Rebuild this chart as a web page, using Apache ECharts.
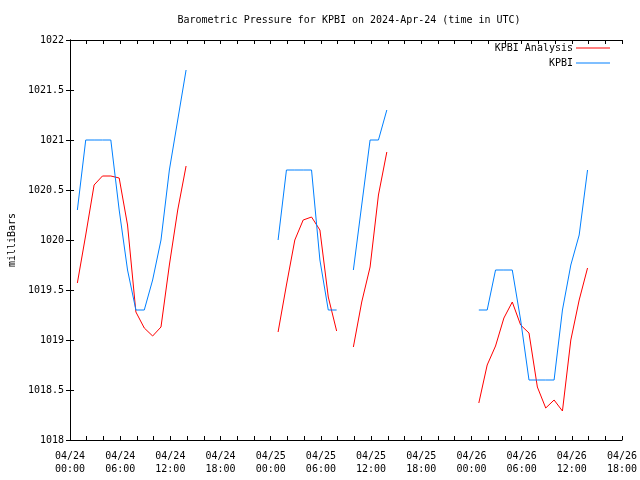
<!DOCTYPE html>
<html>
<head>
<meta charset="utf-8">
<script src="https://cdn.jsdelivr.net/npm/echarts@6/dist/echarts.min.js"></script>
<style>html,body{margin:0;padding:0;background:#fff}#c{width:640px;height:480px}</style>
</head>
<body>
<div id="c"></div>
<script>
// hours since 2024-04-24 00:00 UTC (observations at :53)
const hours24 = [0.88,1.88,2.88,3.88,4.88,5.88,6.88,7.88,8.88,9.88,10.88,11.88,12.88,13.88];
const kpbi24  = [1020.3,1021,1021,1021,1021,1020.3,1019.7,1019.3,1019.3,1019.6,1020.0,1020.7,1021.2,1021.7];
const anal24  = [1019.57,1020.05,1020.55,1020.64,1020.64,1020.62,1020.15,1019.28,1019.12,1019.04,1019.13,1019.75,1020.3,1020.74];

const hours25a = [24.88,25.88,26.88,27.88,28.88,29.88,30.88,31.88];
const kpbi25a  = [1020.0,1020.7,1020.7,1020.7,1020.7,1019.8,1019.3,1019.3];
const anal25a  = [1019.08,1019.55,1020.0,1020.2,1020.23,1020.1,1019.43,1019.09];

const hours25b = [33.88,34.88,35.88,36.88,37.88];
const kpbi25b  = [1019.7,1020.35,1021.0,1021.0,1021.3];
const anal25b  = [1018.93,1019.38,1019.73,1020.45,1020.88];

const hours26 = [48.88,49.88,50.88,51.88,52.88,53.88,54.88,55.88,56.88,57.88,58.88,59.88,60.88,61.88];
const kpbi26  = [1019.3,1019.3,1019.7,1019.7,1019.7,1019.2,1018.6,1018.6,1018.6,1018.6,1019.3,1019.75,1020.05,1020.7];
const anal26  = [1018.37,1018.75,1018.94,1019.22,1019.38,1019.15,1019.07,1018.53,1018.32,1018.4,1018.29,1019.0,1019.4,1019.72];

const xTickLabels = ['04/24\n00:00','04/24\n06:00','04/24\n12:00','04/24\n18:00',
                     '04/25\n00:00','04/25\n06:00','04/25\n12:00','04/25\n18:00',
                     '04/26\n00:00','04/26\n06:00','04/26\n12:00','04/26\n18:00'];

function build(segs) {
  const out = [];
  segs.forEach((s, i) => {
    if (i > 0) out.push([s[0][0] - 0.5, null]);
    s[0].forEach((h, j) => out.push([h, s[1][j]]));
  });
  return out;
}
const analData = build([[hours24, anal24],[hours25a, anal25a],[hours25b, anal25b],[hours26, anal26]]);
const kpbiData = build([[hours24, kpbi24],[hours25a, kpbi25a],[hours25b, kpbi25b],[hours26, kpbi26]]);

const FONT = 'DejaVu Sans Mono';
const txt = {fontFamily: FONT, fontSize: 10, color: '#000'};
const chart = echarts.init(document.getElementById('c'), null, {renderer: 'canvas'});

const xBase = {
  type: 'value', min: 0, max: 66, interval: 6,
  axisLine: {show: true, lineStyle: {color: '#000', width: 1}},
  axisTick: {show: true, inside: true, length: 4, lineStyle: {color: '#000'}},
  minorTick: {show: true, splitNumber: 3, length: 4, lineStyle: {color: '#000'}},
  splitLine: {show: false}, minorSplitLine: {show: false}
};
const yBase = {
  type: 'value', min: 1018, max: 1022, interval: 0.5,
  axisLine: {show: true, lineStyle: {color: '#000', width: 1}},
  axisTick: {show: true, inside: true, length: 4, lineStyle: {color: '#000'}},
  splitLine: {show: false}
};

chart.setOption({
  animation: false,
  backgroundColor: '#fff',
  title: {
    text: 'Barometric Pressure for KPBI on 2024-Apr-24 (time in UTC)',
    left: 344, top: 10, textAlign: 'center',
    textStyle: {fontFamily: FONT, fontSize: 10, fontWeight: 'normal', color: '#000'}
  },
  grid: {left: 70, right: 18, top: 40, bottom: 40, containLabel: false, outerBoundsMode: 'none'},
  legend: [
    {data: [{name: 'KPBI Analysis', icon: 'rect'}], right: 30, top: 43, align: 'right', orient: 'vertical',
     itemWidth: 34, itemHeight: 1, padding: 0, textStyle: Object.assign({}, txt, {padding: [0, -2, 0, 0]})},
    {data: [{name: 'KPBI', icon: 'rect'}], right: 30, top: 58, align: 'right', orient: 'vertical',
     itemWidth: 34, itemHeight: 1, padding: 0, textStyle: Object.assign({}, txt, {padding: [0, -2, 0, 0]})}
  ],
  xAxis: [
    Object.assign({}, xBase, {
      position: 'bottom',
      axisLabel: Object.assign({}, txt, {margin: 10, lineHeight: 13,
        formatter: v => xTickLabels[Math.round(v / 6)]})
    }),
    Object.assign({}, xBase, {position: 'top', axisLabel: {show: false}})
  ],
  yAxis: [
    Object.assign({}, yBase, {
      position: 'left',
      name: 'milliBars', nameLocation: 'middle', nameGap: 53, nameRotate: 90,
      nameTextStyle: txt,
      axisLabel: Object.assign({}, txt, {margin: 6, formatter: v => String(v)})
    }),
    Object.assign({}, yBase, {position: 'right', axisLabel: {show: false}})
  ],
  series: [
    {name: 'KPBI Analysis', type: 'line', data: analData, symbol: 'none', showSymbol: false,
     connectNulls: false, lineStyle: {color: '#ff0000', width: 1}, itemStyle: {color: '#ff0000'}},
    {name: 'KPBI', type: 'line', data: kpbiData, symbol: 'none', showSymbol: false,
     connectNulls: false, lineStyle: {color: '#0080ff', width: 1}, itemStyle: {color: '#0080ff'}}
  ]
});
</script>
</body>
</html>
